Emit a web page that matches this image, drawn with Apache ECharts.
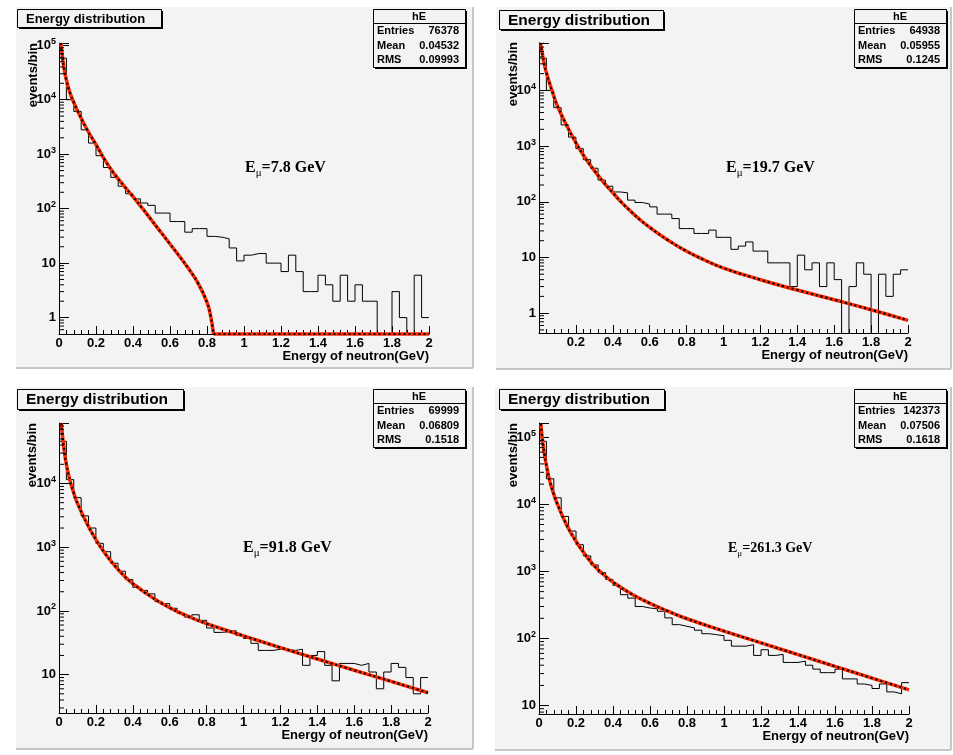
<!DOCTYPE html>
<html>
<head>
<meta charset="utf-8">
<title>Energy distribution</title>
<script src="https://cdn.jsdelivr.net/npm/echarts@6/dist/echarts.min.js"></script>
<style>
html, body { margin: 0; padding: 0; background: #fff; }
#chart { width: 953px; height: 755px; }
</style>
</head>
<body>
<div id="chart"></div>
<script>
// histogram bins (lower edges, width 0.04 GeV) and upper edge of the range
var binLow = [0, 0.04, 0.08, 0.12, 0.16, 0.2, 0.24, 0.28, 0.32, 0.36,
  0.4, 0.44, 0.48, 0.52, 0.56, 0.6, 0.64, 0.68, 0.72, 0.76,
  0.8, 0.84, 0.88, 0.92, 0.96, 1, 1.04, 1.08, 1.12, 1.16,
  1.2, 1.24, 1.28, 1.32, 1.36, 1.4, 1.44, 1.48, 1.52, 1.56,
  1.6, 1.64, 1.68, 1.72, 1.76, 1.8, 1.84, 1.88, 1.92, 1.96];
var binEnd = 2;

// events per bin, one array per muon energy (0 = empty bin)
var hist1 = [58000, 10000, 6100, 2800, 1600, 940, 570, 375, 258, 188,
  151, 127, 115, 83, 83, 58, 58, 37, 43, 43,
  31, 30, 28, 19, 11, 14, 15, 15, 10, 10,
  7, 14, 7, 3, 3, 6, 4, 2, 6, 2,
  4, 2, 2, 0, 0, 3, 1, 0, 6, 1];
var hist2 = [38000, 10000, 4900, 2400, 1450, 900, 570, 400, 245, 190,
  150, 145, 107, 97, 91, 81, 60, 60, 50, 33,
  33, 27, 27, 31, 23, 23, 14, 16, 19, 13,
  13, 8, 8, 8, 3, 11, 6, 8, 3, 8,
  4, 0, 3, 8, 5, 0, 5, 2, 5, 6];
var hist3 = [46000, 11500, 6000, 3100, 2000, 1150, 850, 560, 420, 310,
  235, 210, 185, 140, 130, 110, 92, 80, 87, 71,
  54, 46, 47, 49, 41, 37, 31, 24, 24, 25,
  25, 24, 25, 14, 20, 23, 14, 8, 15, 15,
  14, 15, 11, 6, 11, 15, 13, 9, 5, 9];
var hist4 = [87000, 24000, 12500, 6600, 4000, 2500, 1700, 1250, 960, 760,
  620, 450, 400, 300, 285, 277, 255, 203, 161, 152,
  144, 133, 118, 114, 110, 94, 77, 77, 81, 56,
  68, 56, 58, 44, 44, 46, 40, 35, 31, 31,
  35, 25, 25, 21, 20, 18, 21, 16, 15, 22];

// fitted functions, read at a few energies
var fit1X = [0.01, 0.02, 0.03, 0.04, 0.06, 0.08, 0.1, 0.15, 0.2, 0.25, 0.3, 0.35, 0.4, 0.45, 0.5, 0.55, 0.6, 0.65, 0.7, 0.75, 0.8, 0.82, 0.835];
var fit1Y = [1.1e5, 5.6e4, 3.3e4, 2.3e4, 1.32e4, 8900, 6300, 2900, 1500, 760, 430, 265, 166, 102, 61.7, 37.2, 22.4, 13.5, 7.94, 4.37, 1.91, 1.05, 0.5];
// below the frame minimum the first fit is drawn along the bottom edge
var fit1FloorX = [0.835, 2];
var fit1FloorY = [0.5, 0.5];
var fit2X = [0.008, 0.02, 0.03, 0.04, 0.06, 0.08, 0.1, 0.15, 0.2, 0.25, 0.3, 0.35, 0.4, 0.45, 0.5, 0.55, 0.6, 0.7, 0.8, 0.9, 1, 1.2, 1.4, 1.6, 1.8, 2];
var fit2Y = [7e4, 4.17e4, 2.82e4, 2.09e4, 1.26e4, 7943, 5248, 2344, 1148, 617, 363, 224, 145, 95.5, 66.1, 46.8, 34.7, 20.4, 12.9, 8.91, 6.46, 3.98, 2.6, 1.74, 1.15, 0.74];
var fit3X = [0.013, 0.02, 0.03, 0.04, 0.06, 0.08, 0.1, 0.15, 0.2, 0.25, 0.3, 0.35, 0.4, 0.5, 0.6, 0.7, 0.8, 1, 1.2, 1.4, 1.6, 1.8, 2];
var fit3Y = [8.9e4, 5.25e4, 3.02e4, 2e4, 1.1e4, 7079, 4898, 2399, 1318, 794, 525, 363, 269, 166, 112, 82.2, 63.1, 40.7, 26.6, 17.6, 11.7, 7.85, 5.19];
var fit4X = [0.01, 0.02, 0.03, 0.04, 0.06, 0.08, 0.1, 0.15, 0.2, 0.25, 0.3, 0.35, 0.4, 0.5, 0.6, 0.7, 0.8, 1, 1.2, 1.4, 1.6, 1.8, 2];
var fit4Y = [1.58e5, 8.5e4, 5.5e4, 3.8e4, 2.14e4, 1.41e4, 1e4, 4898, 2818, 1778, 1202, 891, 692, 462, 335, 254, 197, 129, 86.1, 57.5, 38.5, 25.7, 17.2];

// stats boxes and labels
var beamEnergy = ['7.8', '19.7', '91.8', '261.3'];
var statEntries = ['76378', '64938', '69999', '142373'];
var statMean = ['0.04532', '0.05955', '0.06809', '0.07506'];
var statRms = ['0.09993', '0.1245', '0.1518', '0.1618'];
var logMinorMult = [2, 3, 4, 5, 6, 7, 8, 9];

var FONT = '"Liberation Sans", Arial, Helvetica, sans-serif';
var SERIF = '"Liberation Serif", "Times New Roman", Times, serif';
var PAD = '#f3f3f3';

var panels = [
  { hist: hist1, fits: [[fit1X, fit1Y, 0.5], [fit1FloorX, fit1FloorY, 0]], ymin: 0.5, ymax: 1.1e5, showZero: true,
    pad: [16, 7, 457, 361], grid: [59, 43, 370, 291], title: [17, 9, 144, 18, 13],
    stat: [373, 9, 92, 58], eLab: [245, 168, 16], yName: [33, 43] },
  { hist: hist2, fits: [[fit2X, fit2Y, 0.5]], ymin: 0.44, ymax: 7.1e4, showZero: false,
    pad: [496, 7, 455, 362], grid: [539, 43, 369, 290], title: [499, 10, 164, 19, 15.5],
    stat: [854, 9, 92, 58], eLab: [726, 168, 16], yName: [513, 42] },
  { hist: hist3, fits: [[fit3X, fit3Y, 0.5]], ymin: 2.5, ymax: 8.9e4, showZero: true,
    pad: [16, 387, 457, 362], grid: [59, 423, 369, 290], title: [17, 389, 166, 20, 15.5],
    stat: [373, 389, 92, 58], eLab: [243, 548, 16], yName: [32, 423] },
  { hist: hist4, fits: [[fit4X, fit4Y, 0.5]], ymin: 7.5, ymax: 1.63e5, showZero: true,
    pad: [495, 387, 456, 363], grid: [539, 423, 370, 291], title: [499, 389, 165, 20, 15.5],
    stat: [854, 389, 92, 58], eLab: [728, 548, 14], yName: [513, 423] }
];

function logLabel(v) {
  var e = Math.round(Math.log(v) / Math.LN10);
  if (Math.abs(Math.log(v) / Math.LN10 - e) > 1e-6) return '';
  if (e <= 0) return '{b|1}';
  if (e === 1) return '{b|10}';
  return '{b|10}{s|' + e + '}';
}

function minorTicks(lo, hi) {
  var out = [];
  var e0 = Math.floor(Math.log(lo) / Math.LN10);
  var e1 = Math.ceil(Math.log(hi) / Math.LN10);
  for (var e = e0; e <= e1; e++) {
    for (var k = 0; k < logMinorMult.length; k++) {
      var v = logMinorMult[k] * Math.pow(10, e);
      if (v > lo && v < hi) out.push([0, v]);
    }
  }
  return out;
}

function shadowBox(x, y, w, h) {
  return [
    { type: 'rect', shape: { x: x + 2, y: y + 2, width: w, height: h }, style: { fill: '#000' } },
    { type: 'rect', shape: { x: x + 0.5, y: y + 0.5, width: w, height: h }, style: { fill: PAD, stroke: '#000', lineWidth: 1 } }
  ];
}

var grids = [], xAxes = [], yAxes = [], series = [], graphics = [];

panels.forEach(function(p, i) {
  // pad background
  graphics.push({
    type: 'group', z: -5, children: [
      { type: 'rect', shape: { x: p.pad[0], y: p.pad[1], width: p.pad[2], height: p.pad[3] }, style: { fill: PAD } },
      { type: 'line', shape: { x1: p.pad[0] + p.pad[2], y1: p.pad[1], x2: p.pad[0] + p.pad[2], y2: p.pad[1] + p.pad[3] }, style: { stroke: '#c6c6c6', lineWidth: 2 } },
      { type: 'line', shape: { x1: p.pad[0], y1: p.pad[1] + p.pad[3], x2: p.pad[0] + p.pad[2], y2: p.pad[1] + p.pad[3] }, style: { stroke: '#c6c6c6', lineWidth: 2 } }
    ]
  });

  // title box
  var t = p.title;
  graphics.push({
    type: 'group', z: 100, children: shadowBox(t[0], t[1], t[2], t[3]).concat([
      { type: 'text', x: t[0] + 9, y: t[1] + t[3] / 2 + 1,
        style: { text: 'Energy distribution', fill: '#000', fontFamily: FONT, fontWeight: 'bold', fontSize: t[4], verticalAlign: 'middle' } }
    ])
  });

  // stats box
  var s = p.stat;
  var rows = [['Entries', statEntries[i]], ['Mean', statMean[i]], ['RMS', statRms[i]]];
  var kids = shadowBox(s[0], s[1], s[2], s[3]);
  kids.push({ type: 'line', shape: { x1: s[0], y1: s[1] + 14.5, x2: s[0] + s[2], y2: s[1] + 14.5 }, style: { stroke: '#000', lineWidth: 1 } });
  kids.push({ type: 'text', x: s[0] + s[2] / 2, y: s[1] + 7.5,
    style: { text: 'hE', align: 'center', verticalAlign: 'middle', fill: '#000', fontFamily: FONT, fontWeight: 'bold', fontSize: 11 } });
  rows.forEach(function(r, k) {
    var ry = s[1] + 22 + k * 14.5;
    kids.push({ type: 'text', x: s[0] + 4, y: ry, style: { text: r[0], verticalAlign: 'middle', fill: '#000', fontFamily: FONT, fontWeight: 'bold', fontSize: 11 } });
    kids.push({ type: 'text', x: s[0] + s[2] - 6, y: ry, style: { text: r[1], align: 'right', verticalAlign: 'middle', fill: '#000', fontFamily: FONT, fontWeight: 'bold', fontSize: 11 } });
  });
  graphics.push({ type: 'group', z: 100, children: kids });

  // E_mu label
  graphics.push({
    type: 'text', z: 50, x: p.eLab[0], y: p.eLab[1],
    style: {
      text: '{e|E}{m|\u03bc}{e|=' + beamEnergy[i] + ' GeV}',
      verticalAlign: 'middle',
      rich: {
        e: { fontFamily: SERIF, fontWeight: 'bold', fontSize: p.eLab[2], lineHeight: p.eLab[2] + 6, fill: '#000' },
        m: { fontFamily: SERIF, fontSize: p.eLab[2] - 5, verticalAlign: 'bottom', fill: '#000' }
      }
    }
  });

  // y axis title
  graphics.push({
    type: 'text', z: 50, x: p.yName[0], y: p.yName[1], rotation: Math.PI / 2,
    style: { text: 'events/bin', align: 'right', verticalAlign: 'middle', fill: '#000', fontFamily: FONT, fontWeight: 'bold', fontSize: 13 }
  });

  grids.push({
    left: p.grid[0], top: p.grid[1], width: p.grid[2], height: p.grid[3],
    show: true, borderColor: '#000', borderWidth: 1, backgroundColor: 'transparent'
  });

  xAxes.push({
    gridIndex: i, type: 'value', min: 0, max: 2, interval: 0.2,
    axisLine: { lineStyle: { color: '#000', width: 1 } },
    axisTick: { inside: true, length: 8, lineStyle: { color: '#000' } },
    minorTick: { show: true, splitNumber: 5, length: 4, lineStyle: { color: '#000' } },
    splitLine: { show: false },
    axisLabel: { margin: 3, color: '#000', fontFamily: FONT, fontWeight: 'bold', fontSize: 13, showMinLabel: p.showZero },
    name: 'Energy of neutron(GeV)', nameLocation: 'end', nameGap: 0,
    nameTextStyle: { align: 'right', verticalAlign: 'top', padding: [16, 0, 0, 0], color: '#000', fontFamily: FONT, fontWeight: 'bold', fontSize: 13 }
  });

  yAxes.push({
    gridIndex: i, type: 'log', logBase: 10, min: p.ymin, max: p.ymax,
    axisLine: { lineStyle: { color: '#000', width: 1 } },
    axisTick: { inside: true, length: 10, lineStyle: { color: '#000' } },
    splitLine: { show: false },
    axisLabel: {
      margin: 3, formatter: logLabel,
      rich: {
        b: { fontFamily: FONT, fontWeight: 'bold', fontSize: 13, lineHeight: 17, color: '#000' },
        s: { fontFamily: FONT, fontWeight: 'bold', fontSize: 9, verticalAlign: 'top', color: '#000' }
      }
    }
  });

  var histData = binLow.map(function(x, k) {
    return [x, p.hist[k] > 0 ? p.hist[k] : 1e-3];
  });
  histData.push([binEnd, p.hist[p.hist.length - 1]]);

  series.push({
    type: 'line', xAxisIndex: i, yAxisIndex: i, data: histData, step: 'end',
    symbol: 'none', lineStyle: { color: '#000', width: 1 }, z: 2
  });

  p.fits.forEach(function(f) {
    var fitData = f[0].map(function(x, k) { return [x, f[1][k]]; });
    series.push({
      type: 'line', xAxisIndex: i, yAxisIndex: i, data: fitData, smooth: f[2],
      symbol: 'none', clip: false, lineStyle: { color: '#ff2a00', width: 3.5 }, z: 3
    });
    series.push({
      type: 'line', xAxisIndex: i, yAxisIndex: i, data: fitData, smooth: f[2],
      symbol: 'none', clip: false, lineStyle: { color: '#000', width: 2.2, type: [2, 3] }, z: 4
    });
  });

  series.push({
    type: 'custom', xAxisIndex: i, yAxisIndex: i, silent: true, z: 5,
    data: minorTicks(p.ymin, p.ymax),
    renderItem: function(params, api) {
      var pt = api.coord([0, api.value(1)]);
      return {
        type: 'line',
        shape: { x1: pt[0], y1: pt[1], x2: pt[0] + 5, y2: pt[1] },
        style: { stroke: '#000', lineWidth: 1 }
      };
    }
  });
});

var chart = echarts.init(document.getElementById('chart'));
chart.setOption({
  animation: false,
  backgroundColor: '#fff',
  grid: grids,
  xAxis: xAxes,
  yAxis: yAxes,
  series: series,
  graphic: graphics
});
</script>
</body>
</html>
